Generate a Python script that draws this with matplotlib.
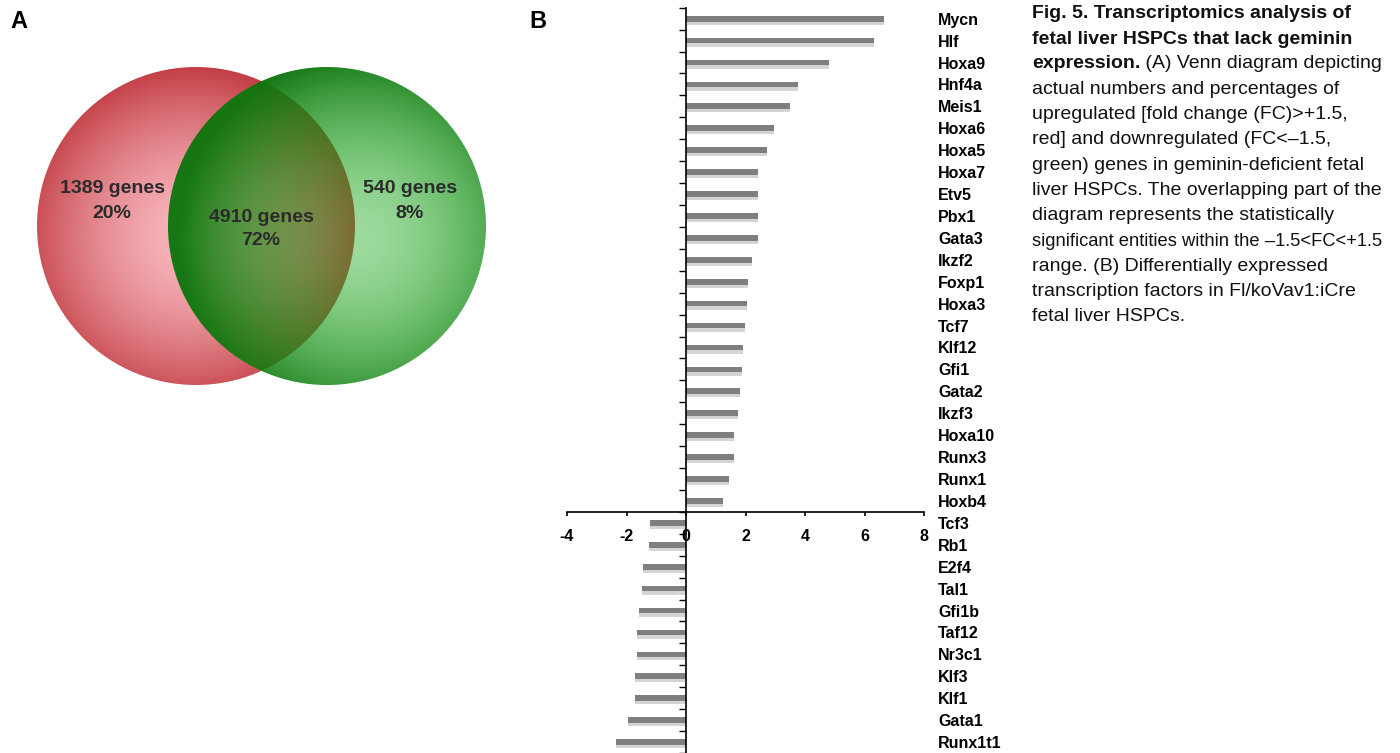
import numpy as np
import matplotlib
matplotlib.use("Agg")
import matplotlib.pyplot as plt
from matplotlib.patches import Circle

plt.rcParams['font.family'] = ['Liberation Sans', 'DejaVu Sans']

# ---------------- data ----------------
venn_labels = ["1389 genes", "4910 genes", "540 genes"]
venn_counts = [1389, 4910, 540]

genes = ["Mycn", "Hlf", "Hoxa9", "Hnf4a", "Meis1", "Hoxa6", "Hoxa5", "Hoxa7",
         "Etv5", "Pbx1", "Gata3", "Ikzf2", "Foxp1", "Hoxa3", "Tcf7", "Klf12",
         "Gfi1", "Gata2", "Ikzf3", "Hoxa10", "Runx3", "Runx1", "Hoxb4",
         "Tcf3", "Rb1", "E2f4", "Tal1", "Gfi1b", "Taf12", "Nr3c1", "Klf3",
         "Klf1", "Gata1", "Runx1t1"]
fold_change = [6.66, 6.31, 4.79, 3.78, 3.50, 2.97, 2.73, 2.43,
               2.41, 2.41, 2.41, 2.21, 2.10, 2.04, 1.98, 1.90,
               1.87, 1.82, 1.74, 1.61, 1.61, 1.45, 1.26,
               -1.21, -1.23, -1.43, -1.49, -1.57, -1.64, -1.66, -1.70,
               -1.71, -1.96, -2.36]
x_ticks = [-4, -2, 0, 2, 4, 6, 8]

W, H = 1400, 753
fig = plt.figure(figsize=(W / 100, H / 100), dpi=100)

# ---------------- panel letters ----------------
fig.text(10 / W, 1 - 22 / H, "A", fontsize=17, fontweight='bold', va='center')
fig.text(529 / W, 1 - 22 / H, "B", fontsize=17, fontweight='bold', va='center')

# ---------------- Venn (panel A) ----------------
axv = fig.add_axes([0, 0, 540 / W, 1])
axv.set_xlim(0, 540)
axv.set_ylim(H, 0)
axv.axis('off')

gx, gy = np.meshgrid(np.linspace(0, 540, 1080), np.linspace(0, H, 1506))


def radial(hx, hy, reach):
    d = np.hypot(gx - hx, gy - hy) / reach
    return np.clip(d, 0, 1) ** 1.6


# red circle
rc = (196, 226, 159)
t = radial(190, 236, 180)[..., None]
c0 = np.array([248, 182, 188]) / 255
c1 = np.array([190, 50, 58]) / 255
red_img = np.concatenate([c0 + (c1 - c0) * t, np.ones_like(t)], axis=2)
im = axv.imshow(red_img, extent=(0, 540, H, 0), origin='upper', zorder=1,
                interpolation='bilinear')
im.set_clip_path(Circle(rc[:2], rc[2], transform=axv.transData))

# green circle
gc = (327, 226, 159)
t = radial(360, 238, 180)[..., None]
g0 = np.array([22, 168, 22]) / 255
g1 = np.array([14, 118, 14]) / 255
a0, a1 = 0.42, 0.96
green_img = np.concatenate([g0 + (g1 - g0) * t, a0 + (a1 - a0) * t], axis=2)
im2 = axv.imshow(green_img, extent=(0, 540, H, 0), origin='upper', zorder=2,
                 interpolation='bilinear')
im2.set_clip_path(Circle(gc[:2], gc[2], transform=axv.transData))
axv.set_aspect('auto')

total = sum(venn_counts)
pcts = [f"{round(100 * c / total)}%" for c in venn_counts]
venn_pos = [(112, 188, 213), (261, 217, 240), (410, 188, 213)]
for lab, pc, (x, y1, y2) in zip(venn_labels, pcts, venn_pos):
    axv.text(x, y1, lab, ha='center', va='center', fontsize=14,
             fontweight='bold', color='#2b2b2b', zorder=5)
    axv.text(x, y2, pc, ha='center', va='center', fontsize=14,
             fontweight='bold', color='#2b2b2b', zorder=5)

# ---------------- bar chart (panel B) ----------------
x0, x1 = 567, 924
top = 7.7
ax = fig.add_axes([x0 / W, 0, (x1 - x0) / W, 1 - top / H])
ypos = np.arange(len(genes))
ax.barh(ypos + 0.1, fold_change, height=0.36, color='#d4d4d4', zorder=1)
ax.barh(ypos, fold_change, height=0.26, color='#7f7f7f', zorder=2)
ax.set_xlim(-4, 8)
ax.set_ylim(len(genes) - 0.5, -0.5)

for s in ['top', 'right']:
    ax.spines[s].set_visible(False)
ax.spines['left'].set_position(('data', 0))
ax.spines['bottom'].set_position(('data', 22.5))
ax.spines['left'].set_linewidth(1.2)
ax.spines['bottom'].set_linewidth(1.2)
ax.spines['left'].set_zorder(5)

ax.set_xticks(x_ticks)
ax.set_xticklabels([str(v) for v in x_ticks], fontsize=11.5, fontweight='bold')
ax.tick_params(axis='x', direction='out', length=3, width=1.2, pad=9)

ax.set_yticks(ypos)
ax.set_yticklabels(genes, fontsize=11.5, fontweight='bold')
ax.set_yticks(np.arange(len(genes) + 1) - 0.5, minor=True)
ax.tick_params(axis='y', which='major', left=False, right=False,
               labelleft=False, labelright=True, pad=6.5)
ax.tick_params(axis='y', which='minor', left=True, direction='out',
               length=5, width=1.0)
ax.patch.set_alpha(0)

# ---------------- caption ----------------
cx = 1032 / W
line_y = [14.0, 39.0, 64.0, 89.0, 114.5, 140.0, 165.3, 190.5, 215.8, 241.0,
          266.2, 291.4, 316.7]
fs = 14.0
kw = dict(va='center', ha='left', color='#111111')
fig.text(cx, 1 - line_y[0] / H, "Fig. 5. Transcriptomics analysis of",
         fontweight='bold', fontsize=fs, **kw)
fig.text(cx, 1 - line_y[1] / H, "fetal liver HSPCs that lack geminin",
         fontweight='bold', fontsize=fs, **kw)
b = fig.text(cx, 1 - line_y[2] / H, "expression.", fontweight='bold',
             fontsize=fs, **kw)
ax.annotate(" (A) Venn diagram depicting", xy=(1, 0.5), xycoords=b,
            va='center', ha='left', fontsize=fs, color='#111111',
            annotation_clip=False)
rest = ["actual numbers and percentages of",
        "upregulated [fold change (FC)>+1.5,",
        "red] and downregulated (FC<\u20131.5,",
        "green) genes in geminin-deficient fetal",
        "liver HSPCs. The overlapping part of the",
        "diagram represents the statistically",
        "significant entities within the \u20131.5<FC<+1.5",
        "range. (B) Differentially expressed",
        "transcription factors in Fl/koVav1:iCre",
        "fetal liver HSPCs."]
sizes = [fs] * len(rest)
sizes[6] = 13.2
for s, y, f in zip(rest, line_y[3:], sizes):
    fig.text(cx, 1 - y / H, s, fontsize=f, **kw)

fig.savefig("out.png", dpi=100)
